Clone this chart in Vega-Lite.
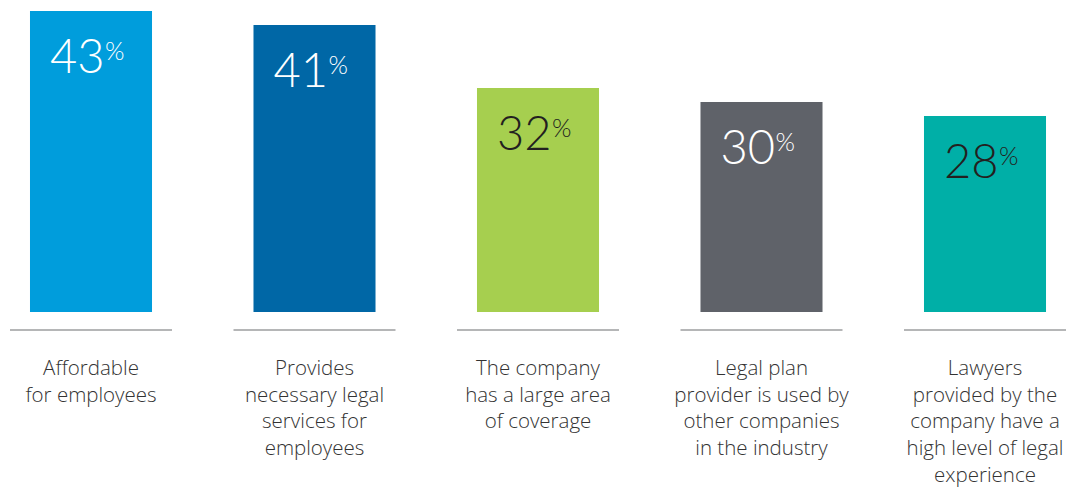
{
  "$schema": "https://vega.github.io/schema/vega-lite/v6.json",
  "width": 1069,
  "height": 487,
  "autosize": {"type": "fit", "contains": "padding"},
  "padding": 0,
  "background": "white",
  "config": {"view": {"stroke": null}},
  "data": {
    "values": [
      {"cat": "a", "label": "Affordable\nfor employees", "value": 43},
      {"cat": "b", "label": "Provides\nnecessary legal\nservices for\nemployees", "value": 41},
      {"cat": "c", "label": "The company\nhas a large area\nof coverage", "value": 32},
      {"cat": "d", "label": "Legal plan\nprovider is used by\nother companies\nin the industry", "value": 30},
      {"cat": "e", "label": "Lawyers\nprovided by the\ncompany have a\nhigh level of legal\nexperience", "value": 28}
    ]
  },
  "encoding": {
    "x": {
      "field": "cat",
      "type": "nominal",
      "sort": null,
      "axis": null,
      "scale": {"range": [-20.75, 1096.75], "paddingInner": 0.454, "paddingOuter": 0.227}
    }
  },
  "layer": [
    {
      "mark": {"type": "bar"},
      "encoding": {
        "y": {"field": "value", "type": "quantitative", "axis": null, "scale": {"domain": [-25, 44.571], "nice": false, "zero": false}},
        "color": {
          "field": "cat",
          "type": "nominal",
          "legend": null,
          "scale": {"domain": ["a", "b", "c", "d", "e"], "range": ["#009ddc", "#0067a6", "#a6cf4f", "#5f6269", "#00afa7"]}
        }
      }
    },
    {
      "mark": {"type": "text", "align": "left", "baseline": "alphabetic", "dx": -41, "dy": 62, "fontSize": 47, "font": "Lato", "fontWeight": 300},
      "encoding": {
        "y": {"field": "value", "type": "quantitative"},
        "text": {"field": "value", "type": "quantitative"},
        "color": {"condition": {"test": "datum.cat === 'c' || datum.cat === 'e'", "value": "#231f20"}, "value": "#ffffff"}
      }
    },
    {
      "mark": {"type": "text", "align": "left", "baseline": "alphabetic", "dx": 14, "dy": 49, "fontSize": 25, "font": "Lato", "fontWeight": 300},
      "encoding": {
        "y": {"field": "value", "type": "quantitative"},
        "text": {"value": "%"},
        "color": {"condition": {"test": "datum.cat === 'c' || datum.cat === 'e'", "value": "#231f20"}, "value": "#ffffff"}
      }
    },
    {
      "mark": {"type": "tick", "size": 162, "thickness": 1.2, "color": "#6d6e71", "opacity": 1},
      "encoding": {
        "y": {"datum": -2.571, "type": "quantitative"}
      }
    },
    {
      "mark": {"type": "text", "align": "center", "baseline": "top", "lineBreak": "\n", "lineHeight": 26.6, "fontSize": 20.5, "font": "Open Sans", "fontWeight": 300, "color": "#333333"},
      "encoding": {
        "y": {"datum": -6.75, "type": "quantitative"},
        "text": {"field": "label", "type": "nominal"}
      }
    }
  ]
}
